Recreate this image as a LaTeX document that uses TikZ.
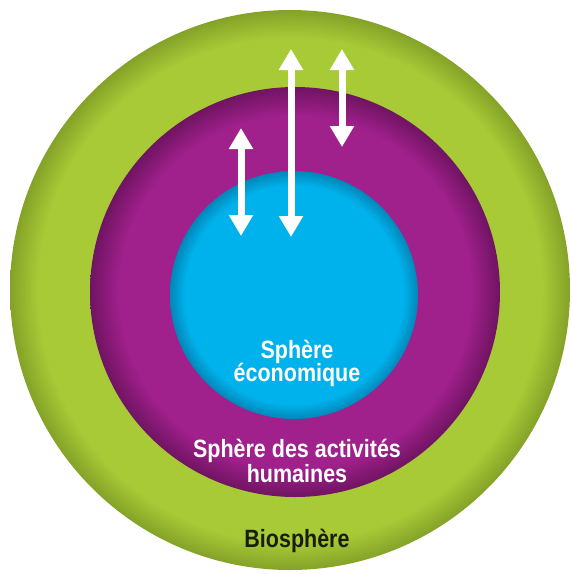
\documentclass[tikz,border=0pt]{standalone}
\usepackage{fontspec}
\setmainfont[FakeStretch=0.86]{Liberation Sans}
\usetikzlibrary{arrows.meta}
\definecolor{gmain}{RGB}{168,202,54}
\definecolor{gdark}{RGB}{132,162,40}
\definecolor{pmain}{RGB}{160,32,140}
\definecolor{pdark}{RGB}{112,20,98}
\definecolor{bmain}{RGB}{0,178,236}
\definecolor{bdark}{RGB}{0,135,185}
\definecolor{biotext}{RGB}{25,30,10}
\pgfdeclareradialshading{greenball}{\pgfpoint{0bp}{0bp}}{color(0bp)=(gmain); color(22.5bp)=(gmain); color(25bp)=(gdark); color(50bp)=(gdark)}
\pgfdeclareradialshading{purpleball}{\pgfpoint{0bp}{0bp}}{color(0bp)=(pmain); color(21.5bp)=(pmain); color(25bp)=(pdark); color(50bp)=(pdark)}
\pgfdeclareradialshading{blueball}{\pgfpoint{0bp}{0bp}}{color(0bp)=(bmain); color(22bp)=(bmain); color(25bp)=(bdark); color(50bp)=(bdark)}
\tikzset{
  label/.style={font=\fontsize{25}{26}\selectfont\bfseries, align=center, inner sep=0pt},
  whitelabel/.style={label, text=white},
  flow/.style={draw=white, line width=7pt, {Triangle[width=23pt,length=21pt]}-{Triangle[width=23pt,length=21pt]}}
}
\begin{document}
\begin{tikzpicture}[x=1pt,y=-1pt]
\useasboundingbox[fill=white] (0,0) rectangle (572,574);
\shade[shading=greenball] (290,290) circle (280);
\shade[shading=purpleball] (295,292) circle (205);
\shade[shading=blueball] (294,295) circle (124);
\node[whitelabel] (eco) at (297,363) {Sphère\\[-3pt]économique};
\node[whitelabel] (hum) at (297,461) {Sphère des activités\\[-1pt]humaines};
\node[label, text=biotext] (bio) at (297,541) {Biosphère};
\coordinate (a1t) at (241,128);
\coordinate (a1b) at (241,236);
\coordinate (a2t) at (291,49);
\coordinate (a2b) at (291,237);
\coordinate (a3t) at (342,49);
\coordinate (a3b) at (342,147);
\draw[flow] (a1t) -- (a1b);
\draw[flow] (a2t) -- (a2b);
\draw[flow] (a3t) -- (a3b);
\end{tikzpicture}
\end{document}
